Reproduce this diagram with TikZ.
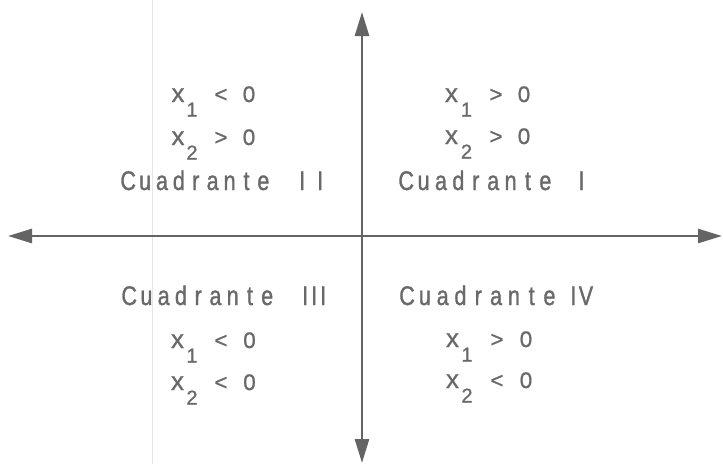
\documentclass[tikz,border=0pt]{standalone}
\usepackage{fontspec}
\setmainfont[FakeBold=0.8]{Liberation Sans}
\newfontfamily\quadfont[FakeBold=1.1,FakeStretch=0.8]{Liberation Sans}
\usetikzlibrary{arrows.meta}
\definecolor{txtgray}{RGB}{105,105,105}
\definecolor{axgray}{RGB}{100,100,100}
\ExplSyntaxOn
\NewDocumentCommand\mono{O{17.5pt}m}{\tl_map_inline:nn{#2}{\makebox[#1][c]{##1}}}
\ExplSyntaxOff
\tikzset{
  txt/.style={inner sep=0pt, text=txtgray},
  xlab/.style={txt, anchor=base, font=\fontsize{26}{26}\selectfont},
  sublab/.style={txt, anchor=base, font=\fontsize{20}{20}\selectfont},
  numlab/.style={txt, anchor=base, font=\fontsize{22.5}{22.5}\selectfont},
  quadlab/.style={txt, anchor=base west, font=\quadfont\fontsize{27}{27}\selectfont},
  romlab/.style={txt, anchor=base west, font=\quadfont\fontsize{27}{27}\selectfont},
  axis/.style={draw=axgray, line width=2.6pt,
    {Triangle[length=24pt,width=14pt]}-{Triangle[length=24pt,width=14pt]}}
}
% name, x-center of x, baseline, subscript, relation, sub dx, rel dx, zero dx
\newcommand\ineqrow[8]{%
  \node[xlab] (#1x) at (#2,#3) {x};
  \node[sublab] (#1s) at (#2+#6,#3+14.5) {#4};
  \node[numlab] (#1r) at (#2+#7,#3) {#5};
  \node[numlab] (#1z) at (#2+#8,#3) {0};
}
\begin{document}
\begin{tikzpicture}[x=1pt,y=-1pt]
\useasboundingbox (0,0) rectangle (723,464);
\fill[white] (0,0) rectangle (723,464);
% faint scan line
\draw[black!10, line width=1pt] (152,0) -- (152,464);
% axes
\coordinate (L) at (8,236);
\coordinate (R) at (722,236);
\coordinate (T) at (362,12);
\coordinate (B) at (362,463);
\draw[axis] (L) -- (R);
\draw[axis] (T) -- (B);
% quadrant II
\ineqrow{tla}{178}{102}{1}{<}{14}{43}{71}
\ineqrow{tlb}{178}{145}{2}{>}{14}{43}{71}
\node[quadlab] (q2) at (119.55,190) {\mono[16.9pt]{Cuadrante}};
\node[romlab] (q2n) at (293,190) {\mono[18pt]{II}};
% quadrant I
\ineqrow{tra}{451.5}{102}{1}{>}{15}{44.5}{72.5}
\ineqrow{trb}{451.5}{144}{2}{>}{15}{44.5}{72.5}
\node[quadlab] (q1) at (397.3,190) {\mono[17.4pt]{Cuadrante}};
\node[romlab, anchor=base] (q1n) at (581.5,190) {I};
% quadrant III
\node[quadlab] (q3) at (120.4,305) {\mono[17.25pt]{Cuadrante}};
\node[romlab] (q3n) at (300.5,305) {\mono[9pt]{III}};
\ineqrow{bla}{177.5}{348}{1}{<}{14.5}{43.5}{72}
\ineqrow{blb}{177.5}{390}{2}{<}{14.5}{43.5}{72}
% quadrant IV
\node[quadlab] (q4) at (398,305) {\mono[17.8pt]{Cuadrante}};
\node[romlab] (q4n) at (567,305) {\mono[12.5pt]{IV}};
\ineqrow{bra}{452.5}{347}{1}{>}{14.5}{44.5}{73.5}
\ineqrow{brb}{452.5}{388}{2}{<}{14.5}{44.5}{73.5}
\end{tikzpicture}
\end{document}
